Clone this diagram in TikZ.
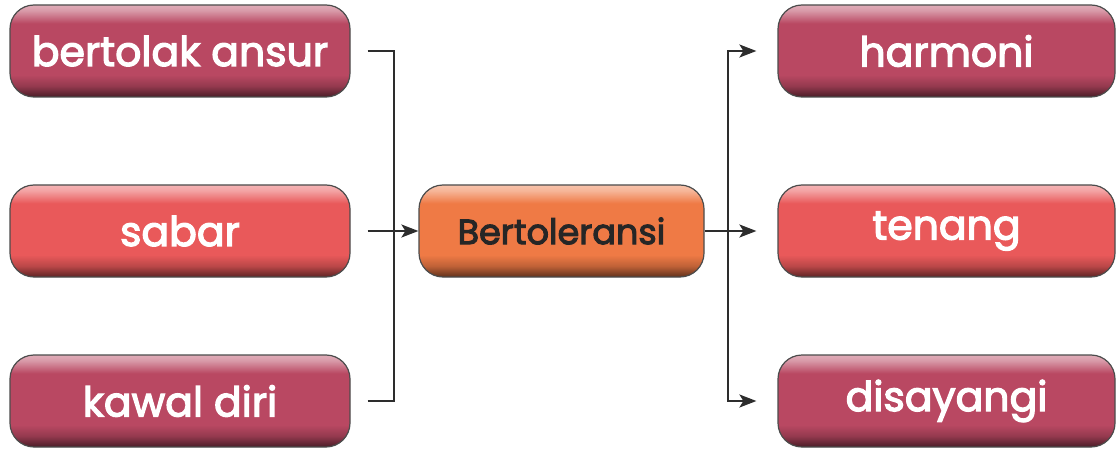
\documentclass[tikz,border=0pt]{standalone}
\usepackage{fontspec}
\setmainfont{Poppins}
\newfontfamily\pillfont{Poppins}[FakeBold=3]
\usepackage{tikz}
\usetikzlibrary{arrows.meta,positioning}
\definecolor{maroonC}{RGB}{185,72,98}
\definecolor{redC}{RGB}{233,89,90}
\definecolor{orangeC}{RGB}{239,122,69}
\definecolor{lineC}{RGB}{45,45,45}
% the path covers 25bp..75bp of an axis shading
\pgfdeclareverticalshading{glossMaroon}{100bp}{color(0bp)=(maroonC!40!black); color(25bp)=(maroonC!40!black); color(31bp)=(maroonC!80!black); color(37bp)=(maroonC); color(65bp)=(maroonC); color(72bp)=(maroonC!55!white); color(75bp)=(maroonC!45!white); color(100bp)=(maroonC!45!white)}
\pgfdeclareverticalshading{glossRed}{100bp}{color(0bp)=(redC!40!black); color(25bp)=(redC!40!black); color(31bp)=(redC!80!black); color(37bp)=(redC); color(65bp)=(redC); color(72bp)=(redC!55!white); color(75bp)=(redC!45!white); color(100bp)=(redC!45!white)}
\pgfdeclareverticalshading{glossOrange}{100bp}{color(0bp)=(orangeC!40!black); color(25bp)=(orangeC!40!black); color(31bp)=(orangeC!80!black); color(37bp)=(orangeC); color(65bp)=(orangeC); color(72bp)=(orangeC!55!white); color(75bp)=(orangeC!45!white); color(100bp)=(orangeC!45!white)}
\tikzset{
  pill/.style     = {shape=rectangle, rounded corners=24pt,
                     draw=gray!60!black, line width=1.2pt,
                     minimum width=340pt, minimum height=92pt,
                     font=\fontsize{41}{46}\selectfont\pillfont, text=white,
                     inner sep=0pt, shade},
  maroonbox/.style = {pill, shading=glossMaroon},
  redbox/.style    = {pill, shading=glossRed},
  centerbox/.style = {pill, shading=glossOrange, minimum width=285pt,
                      text=black!85, font=\fontsize{35}{40}\selectfont\pillfont},
  line/.style     = {draw=lineC, line width=2pt},
  arrow/.style    = {line, -{Stealth[length=17pt,width=13pt,inset=4pt]}}
}
\begin{document}
\begin{tikzpicture}[x=1pt,y=1pt]
	\useasboundingbox (0,0) rectangle (1117,448);
	% Place nodes
	\node [centerbox] (toleransi) at (561.5,217) {Bertoleransi};
	% Left column
	\node [redbox] (sabar) at (180,217) {sabar};
	\node [maroonbox, above of=sabar, node distance=180pt] (bertolak) {bertolak ansur};
	\node [maroonbox, below of=sabar, node distance=170pt] (kawal) {kawal diri};
	% Right column
	\node [redbox, minimum width=337pt] (tenang) at (946.5,217) {tenang};
	\node [maroonbox, minimum width=337pt, above of=tenang, node distance=180pt] (harmoni) {harmoni};
	\node [maroonbox, minimum width=337pt, below of=tenang, node distance=170pt] (disayangi) {disayangi};
	% Connector ends
	\coordinate (bertolakOut) at ([xshift=17pt]bertolak.east);
	\coordinate (sabarOut) at ([xshift=17pt]sabar.east);
	\coordinate (kawalOut) at ([xshift=17pt]kawal.east);
	\coordinate (joinLeft) at ([xshift=-24pt]toleransi.west);
	\coordinate (joinRight) at ([xshift=23pt]toleransi.east);
	\coordinate (harmoniIn) at ([xshift=-21pt]harmoni.west);
	\coordinate (tenangIn) at ([xshift=-21pt]tenang.west);
	\coordinate (disayangiIn) at ([xshift=-21pt]disayangi.west);
	% Draw edges
	\path [line] (bertolakOut) -| (joinLeft);
	\path [line] (kawalOut) -| (joinLeft);
	\path [arrow] (sabarOut) -- (toleransi.west);
	\path [arrow] (toleransi.east) -- (tenangIn);
	\path [arrow] (joinRight) |- (harmoniIn);
	\path [arrow] (joinRight) |- (disayangiIn);
\end{tikzpicture}
\end{document}
